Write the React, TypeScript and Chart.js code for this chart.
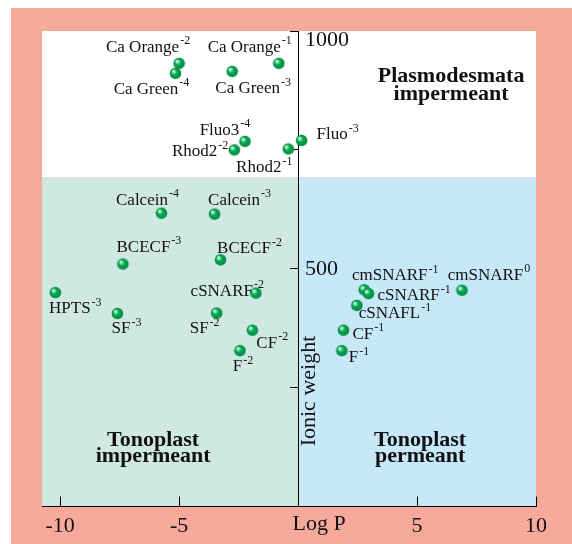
import React, { useEffect, useRef } from 'react';
import { Chart, registerables } from 'chart.js';

Chart.register(...registerables);

// ---- Data ----
const dyes = [
  'Ca Orange', 'Ca Green', 'Ca Green', 'Ca Orange', 'Fluo3', 'Rhod2', 'Rhod2', 'Fluo',
  'Calcein', 'Calcein', 'BCECF', 'BCECF', 'HPTS', 'cSNARF', 'SF', 'SF', 'CF', 'F',
  'cmSNARF', 'cmSNARF', 'cSNARF', 'cSNAFL', 'CF', 'F',
];
const charges = [
  '-2', '-4', '-3', '-1', '-4', '-2', '-1', '-3',
  '-4', '-3', '-3', '-2', '-3', '-2', '-3', '-2', '-2', '-2',
  '-1', '0', '-1', '-1', '-1', '-1',
];
const logP = [
  -5.0, -5.15, -2.77, -0.81, -2.23, -2.68, -0.41, 0.15,
  -5.74, -3.51, -7.36, -3.26, -10.2, -1.77, -7.59, -3.42, -1.92, -2.44,
  2.78, 6.89, 2.96, 2.47, 1.91, 1.84,
];
const ionicWeight = [
  932, 911, 915, 932, 768, 750, 752, 770,
  617, 615, 510, 519, 450, 449, 406, 407, 371, 328,
  456, 455, 448, 423, 371, 328,
];
const xTickValues = [-10, -5, 0, 5, 10];
const yTickLabels = [1000, 500];
const plasmodesmataLimit = 692;

// ---- Layout / style (not data) ----
// [align, dx, dy] of each label relative to its point, in pixels
const labelLayout: [string, number, number][] = [
  ['c', -31, -16], ['c', -24, 16], ['c', 21, 17], ['c', -29, -16],
  ['c', -20, -11], ['r', -6, 2], ['c', -24, 19], ['l', 15, -6],
  ['c', -14, -13], ['c', 25, -14], ['c', 26, -17], ['c', 29, -11],
  ['c', 20, 16], ['r', 8, -2], ['c', 9, 15], ['c', -12, 16],
  ['l', 4, 13], ['c', 3, 16], ['c', 31, -14], ['c', 27, -15],
  ['l', 9, 2], ['l', 2, 8], ['l', 9, 4], ['l', 7, 7],
];
// region titles: [lines, x value, y values]
const regionTitles: [string[], number, number[]][] = [
  [['Plasmodesmata', 'impermeant'], 6.43, [904, 866]],
  [['Tonoplast', 'impermeant'], -6.09, [140, 105]],
  [['Tonoplast', 'permeant'], 5.13, [140, 105]],
];

const SERIF = '"Liberation Serif", "Times New Roman", serif';
const SALMON = '#f7a99b';
const GREEN_BG = '#d0e8e2';
const BLUE_BG = '#c6e8f8';

function makeSphere(): HTMLCanvasElement {
  const c = document.createElement('canvas');
  c.width = 13;
  c.height = 13;
  const g = c.getContext('2d')!;
  const grad = g.createRadialGradient(4.2, 4.2, 0.3, 6.5, 6.5, 6.2);
  grad.addColorStop(0, '#f2fff6');
  grad.addColorStop(0.22, '#7ad6a0');
  grad.addColorStop(0.45, '#00a651');
  grad.addColorStop(1, '#00883f');
  g.fillStyle = grad;
  g.beginPath();
  g.arc(6.5, 6.5, 5.8, 0, Math.PI * 2);
  g.fill();
  return c;
}

const decorPlugin = {
  id: 'decor',
  beforeDraw(chart: any) {
    const { ctx, chartArea } = chart;
    const xs = chart.scales.x;
    const ys = chart.scales.y;
    ctx.save();
    ctx.fillStyle = SALMON;
    ctx.fillRect(chartArea.left - 31, chartArea.top - 23, chart.width, chart.height);
    const x0 = xs.getPixelForValue(0);
    const yl = ys.getPixelForValue(plasmodesmataLimit);
    ctx.fillStyle = '#ffffff';
    ctx.fillRect(chartArea.left, chartArea.top, chartArea.right - chartArea.left, yl - chartArea.top);
    ctx.fillStyle = GREEN_BG;
    ctx.fillRect(chartArea.left, yl, x0 - chartArea.left, chartArea.bottom - yl);
    ctx.fillStyle = BLUE_BG;
    ctx.fillRect(x0, yl, chartArea.right - x0, chartArea.bottom - yl);
    ctx.restore();
  },
  afterDatasetsDraw(chart: any) {
    const { ctx, chartArea } = chart;
    const xs = chart.scales.x;
    const ys = chart.scales.y;
    const meta = chart.getDatasetMeta(0);
    ctx.save();
    ctx.fillStyle = '#111111';
    ctx.textBaseline = 'middle';
    // point labels
    meta.data.forEach((pt: any, i: number) => {
      const [align, dx, dy] = labelLayout[i];
      ctx.font = `17px ${SERIF}`;
      const w1 = ctx.measureText(dyes[i]).width;
      ctx.font = `12px ${SERIF}`;
      const w2 = ctx.measureText(charges[i]).width;
      const total = w1 + w2 + 1;
      const ax = pt.x + dx;
      const y = pt.y + dy;
      let left = ax - total / 2;
      if (align === 'l') left = ax;
      if (align === 'r') left = ax - total;
      ctx.textAlign = 'left';
      ctx.font = `17px ${SERIF}`;
      ctx.fillText(dyes[i], left, y);
      ctx.font = `12px ${SERIF}`;
      ctx.fillText(charges[i], left + w1 + 1, y - 6);
    });
    // region titles
    ctx.textAlign = 'center';
    ctx.font = `bold 22px ${SERIF}`;
    regionTitles.forEach(([lines, xv, yvs]) => {
      lines.forEach((line, j) => {
        ctx.fillText(line, xs.getPixelForValue(xv), ys.getPixelForValue(yvs[j]));
      });
    });
    // y tick labels
    const x0 = xs.getPixelForValue(0);
    ctx.textAlign = 'left';
    ctx.font = `22px ${SERIF}`;
    yTickLabels.forEach((v) => {
      const py = Math.max(ys.getPixelForValue(v), chartArea.top + 9);
      ctx.fillText(String(v), x0 + 7, py);
    });
    // x axis "Log P" label at zero
    ctx.textAlign = 'center';
    ctx.fillText('Log P', x0 + 21, chartArea.bottom + 18);
    // y axis title
    ctx.save();
    ctx.translate(x0 + 11, ys.getPixelForValue(243));
    ctx.rotate(-Math.PI / 2);
    ctx.textAlign = 'center';
    ctx.fillText('Ionic weight', 0, 0);
    ctx.restore();
    ctx.restore();
  },
};

export default function App() {
  const ref = useRef<HTMLCanvasElement | null>(null);
  useEffect(() => {
    if (!ref.current) return;
    const sphere = makeSphere();
    const chart = new Chart(ref.current, {
      type: 'scatter',
      data: {
        datasets: [
          {
            data: logP.map((x, i) => ({ x, y: ionicWeight[i] })),
            pointStyle: sphere as any,
            pointRadius: 6,
            showLine: false,
          },
        ],
      },
      options: {
        animation: false,
        responsive: false,
        events: [],
        layout: { padding: { left: 42, top: 31, right: 36, bottom: -11 } },
        plugins: { legend: { display: false }, tooltip: { enabled: false } },
        scales: {
          x: {
            type: 'linear',
            position: 'bottom',
            min: -10.76,
            max: 10,
            afterBuildTicks: (scale: any) => {
              scale.ticks = xTickValues.map((value) => ({ value }));
            },
            ticks: {
              includeBounds: false,
              padding: 16,
              color: '#111111',
              font: { family: SERIF, size: 22 },
              callback: (v: any) => (Number(v) === 0 ? '' : String(v)),
            },
            grid: { drawOnChartArea: false, drawTicks: true, tickLength: -10, color: '#000000' },
            border: { display: true, color: '#000000', width: 1 },
          },
          y: {
            type: 'linear',
            position: { x: 0 } as any,
            min: 0,
            max: 1000,
            ticks: { display: false, stepSize: 250 },
            grid: { drawOnChartArea: false, drawTicks: true, tickLength: 8, color: '#000000' },
            border: { display: true, color: '#000000', width: 1 },
          },
        },
      },
      plugins: [decorPlugin],
    });
    return () => chart.destroy();
  }, []);
  return (
    <div style={{ position: 'absolute', left: 0, top: 0, width: 572, height: 544 }}>
      <canvas ref={ref} width={572} height={544} style={{ display: 'block', width: 572, height: 544 }} />
    </div>
  );
}
